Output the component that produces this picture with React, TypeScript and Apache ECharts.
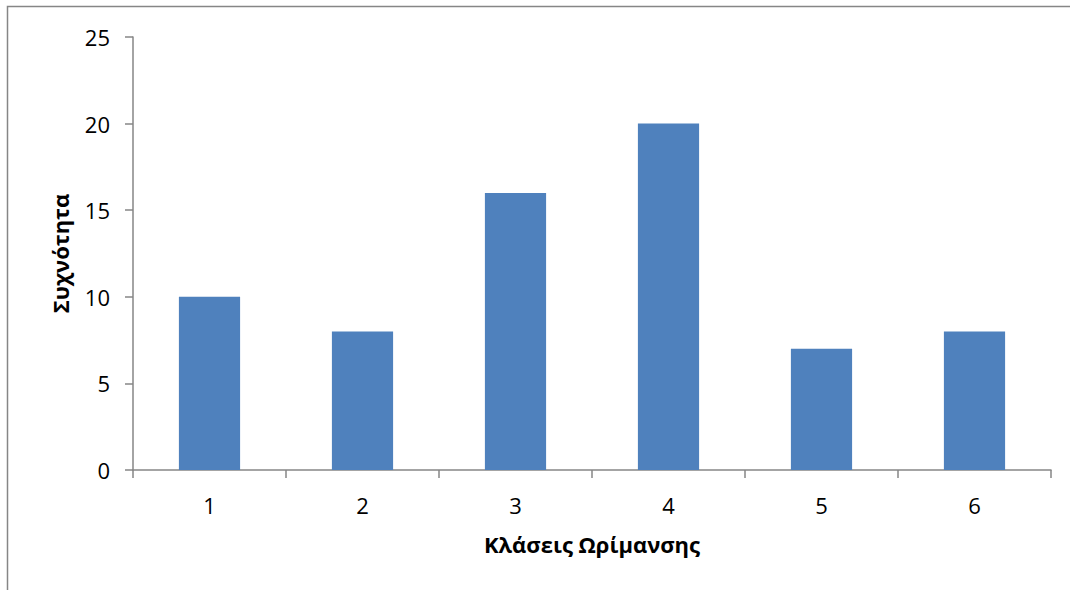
import { useEffect, useRef } from "react";
import * as echarts from "echarts";

const categories = ["1", "2", "3", "4", "5", "6"];
const frequency = [10, 8, 16, 20, 7, 8];
const xTitle = "Κλάσεις Ωρίμανσης";
const yTitle = "Συχνότητα";

const FONT = "'Open Sans', sans-serif";

export default function App() {
  const chartRef = useRef<HTMLDivElement>(null);

  useEffect(() => {
    if (!chartRef.current) return;
    const chart = echarts.init(chartRef.current, null, { renderer: "svg" });
    const option = {
      animation: false,
      textStyle: { fontFamily: FONT },
      grid: { left: 133, top: 37, right: 19, bottom: 120, containLabel: false },
      graphic: [
        {
          type: "rect",
          shape: { x: 7.5, y: 6.5, width: 1200, height: 800 },
          style: { fill: "none", stroke: "#868686", lineWidth: 1.5 },
          silent: true,
        },
      ],
      xAxis: {
        type: "category",
        data: categories,
        name: xTitle,
        nameLocation: "middle",
        nameGap: 63,
        nameTextStyle: { fontFamily: FONT, fontSize: 22, fontWeight: "bold", color: "#000" },
        axisLine: { lineStyle: { color: "#868686", width: 1.5 } },
        axisTick: { show: true, length: 8, lineStyle: { color: "#868686", width: 1.5 } },
        axisLabel: { fontFamily: FONT, fontSize: 22, color: "#000", margin: 24 },
      },
      yAxis: {
        type: "value",
        min: 0,
        max: 25,
        interval: 5,
        name: yTitle,
        nameLocation: "middle",
        nameRotate: 90,
        nameGap: 62,
        nameTextStyle: { fontFamily: FONT, fontSize: 22, fontWeight: "bold", color: "#000" },
        axisLine: { show: true, lineStyle: { color: "#868686", width: 1.5 } },
        axisTick: { show: true, length: 8, lineStyle: { color: "#868686", width: 1.5 } },
        axisLabel: { fontFamily: FONT, fontSize: 22, color: "#000", margin: 23 },
        splitLine: { show: false },
      },
      series: [
        {
          type: "bar",
          data: frequency,
          barWidth: "40%",
          itemStyle: { color: "#4F81BD" },
        },
      ],
    };
    chart.setOption(option);
    return () => {
      chart.dispose();
    };
  }, []);

  return (
    <div
      ref={chartRef}
      style={{ position: "absolute", left: 0, top: 0, width: 1070, height: 590, background: "#fff" }}
    ></div>
  );
}
